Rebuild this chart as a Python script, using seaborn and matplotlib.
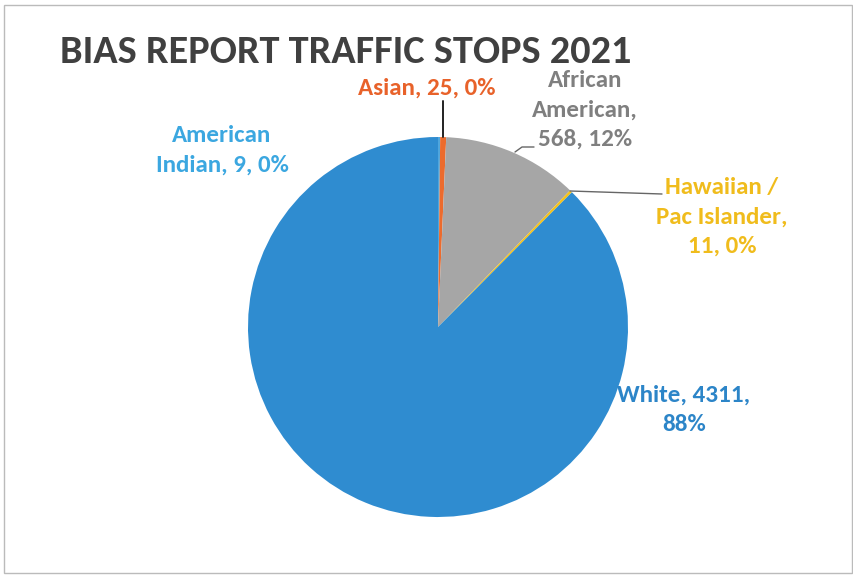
import matplotlib
matplotlib.use("Agg")
import matplotlib.pyplot as plt
import seaborn as sns
from matplotlib.patches import Rectangle

# data, clockwise from 12 o'clock
groups = ["American Indian", "Asian", "African American", "Hawaiian / Pac Islander", "White"]
counts = [9, 25, 568, 11, 4311]
pcts = ["0%", "0%", "12%", "0%", "88%"]
slice_colors = ["#4FA6DD", "#EC6B2D", "#A6A6A6", "#F5C21A", "#2F8CD0"]
text_colors = ["#3BA7E0", "#E8622A", "#7F7F7F", "#F0BC1C", "#2C85C8"]
label_lines = ["American\nIndian, {c}, {p}", "Asian, {c}, {p}", "African\nAmerican,\n{c}, {p}",
               "Hawaiian /\nPac Islander,\n{c}, {p}", "White, {c},\n{p}"]

sns.set_theme(style="white")
plt.rcParams['font.family'] = ['Carlito', 'DejaVu Sans']

W, H = 854, 576
fig = plt.figure(figsize=(W / 100, H / 100), dpi=100)
fig.patch.set_facecolor("white")

# pie center and radius in pixels (from top-left)
cx, cy, r = 438, 327, 190
ax = fig.add_axes([(cx - r) / W, (H - cy - r) / H, 2 * r / W, 2 * r / H])
ax.pie(counts, colors=slice_colors, startangle=90, counterclock=False, radius=1,
       wedgeprops=dict(linewidth=0))
ax.set_xlim(-1, 1)
ax.set_ylim(-1, 1)
ax.set_aspect("equal")
ax.axis("off")

def to_data(px, py):
    return (px - cx) / r, (cy - py) / r

# label positions in pixels (center of text block)
label_pos = [(222, 150), (427, 88), (585, 110), (722, 217), (684, 410)]
for i in range(len(groups)):
    txt = label_lines[i].format(c=counts[i], p=pcts[i])
    x, y = to_data(*label_pos[i])
    ax.text(x, y, txt, color=text_colors[i], fontsize=18, fontweight="bold",
            ha="center", va="center", linespacing=1.5, clip_on=False)

# leader lines
lc = "#666666"
pts = [(443, 137), (443, 101)]
ax.plot(*zip(*[to_data(*p) for p in pts]), color="#222222", lw=1.4, clip_on=False)
pts = [(515, 152), (522, 147), (534, 147)]
ax.plot(*zip(*[to_data(*p) for p in pts]), color=lc, lw=1, clip_on=False)
pts = [(570, 191), (662, 194)]
ax.plot(*zip(*[to_data(*p) for p in pts]), color=lc, lw=1, clip_on=False)

fig.text(60 / W, 1 - 52 / H, "BIAS REPORT TRAFFIC STOPS 2021", fontsize=29, fontweight="bold",
         color="#404040", ha="left", va="center")

fig.patches.append(Rectangle((4 / W, 3 / H), 848 / W, 568 / H, transform=fig.transFigure,
                             fill=False, edgecolor="#BBBBBB", linewidth=1))

fig.savefig("out.png", dpi=100)
